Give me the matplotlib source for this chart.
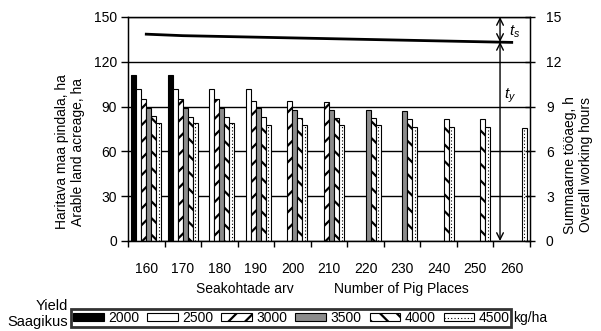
import numpy as np
import matplotlib
matplotlib.use("Agg")
import matplotlib.pyplot as plt
from matplotlib.patches import Patch
from matplotlib.lines import Line2D

plt.rcParams["font.family"] = ["Liberation Sans", "DejaVu Sans"]
plt.rcParams["font.size"] = 10
plt.rcParams["mathtext.fontset"] = "custom"
plt.rcParams["mathtext.it"] = "Liberation Sans:italic"
plt.rcParams["mathtext.rm"] = "Liberation Sans"
plt.rcParams["hatch.linewidth"] = 1.6

nan = np.nan

# seakohtade arv / number of pig places
places = [160, 170, 180, 190, 200, 210, 220, 230, 240, 250, 260]

# haritava maa pindala (ha) saagikuse kaupa, kg/ha
yields = ["2000", "2500", "3000", "3500", "4000", "4500"]
area_2000 = [111, 111, nan, nan, nan, nan, nan, nan, nan, nan, nan]
area_2500 = [102, 102, 101.5, 101.5, nan, nan, nan, nan, nan, nan, nan]
area_3000 = [95, 95, 95, 94, 94, 93, nan, nan, nan, nan, nan]
area_3500 = [89, 89, 89, 89, 88, 88, 88, 87, nan, nan, nan]
area_4000 = [84, 83, 83, 83, 82.5, 82.5, 82.5, 81.5, 81.5, 81.5, nan]
area_4500 = [79, 79, 79, 78, 78, 78, 78, 76.5, 76.5, 76.5, 76]

# summaarne tööaeg, h
hours = [13.85, 13.75, 13.7, 13.65, 13.6, 13.55, 13.5, 13.45, 13.4, 13.35, 13.3]

series = [area_2000, area_2500, area_3000, area_3500, area_4000, area_4500]
faces = ["black", "white", "white", "#8c8c8c", "white", "white"]
hatches = [None, None, "//", None, "\\\\", None]

fig = plt.figure(figsize=(6.01, 3.31), dpi=100)
ax = fig.add_axes([128 / 601, 1 - 241 / 331, 402 / 601, 224 / 331])

x = np.arange(len(places))
w = 0.137
for k, vals in enumerate(series):
    pos = x + (k - 2.5) * w
    ax.bar(pos, vals, w, color=faces[k], edgecolor="black",
           linewidth=0.8, hatch=hatches[k], zorder=2)
    if k == 5:
        # 4500: punktiirjoon tulba keskel
        ax.vlines(pos, 0, vals, colors="black", linestyles=(0, (1, 2)),
                  linewidth=0.8, zorder=3)

ax.set_xlim(-0.5, len(places) - 0.5)
ax.set_ylim(0, 150)
ax.set_yticks(range(0, 151, 30))
ax.yaxis.grid(True, color="black", linewidth=1)
ax.set_axisbelow(True)
ax.set_xticks(x)
ax.set_xticklabels([str(p) for p in places])
ax.set_xticks(np.arange(-0.5, len(places), 1), minor=True)
ax.tick_params(axis="x", which="major", length=0, pad=15)
ax.tick_params(axis="x", which="minor", length=4, width=1, direction="out")
ax.tick_params(axis="y", length=5, width=1, direction="out", pad=3)
for s in ax.spines.values():
    s.set_linewidth(1)

ax2 = ax.twinx()
ax2.set_ylim(0, 15)
ax2.set_yticks(range(0, 16, 3))
ax2.tick_params(axis="y", length=7, width=1, direction="inout", pad=8)
ax2.plot(x, hours, color="black", linewidth=2, zorder=3)

# t_s ja t_y nooled
xa = 9.68
ya = 13.33
ax2.annotate("", xy=(xa, 15), xytext=(xa, ya),
             arrowprops=dict(arrowstyle="<->", color="black", lw=1,
                             shrinkA=0, shrinkB=0, mutation_scale=12))
ax2.annotate("", xy=(xa, 0), xytext=(xa, ya),
             arrowprops=dict(arrowstyle="<->", color="black", lw=1,
                             shrinkA=0, shrinkB=0, mutation_scale=12))
ax2.text(xa + 0.25, 14.0, "$t_s$", fontsize=11, va="center", ha="left")
ax2.text(xa + 0.12, 9.7, "$t_y$", fontsize=11, va="center", ha="left")

fig.text(70 / 601, 1 - 152 / 331, "Haritava maa pindala, ha\nArable land acreage, ha",
         rotation=90, ha="center", va="center", multialignment="center",
         linespacing=1.15)
fig.text(578 / 601, 1 - 165 / 331, "Summaarne tööaeg, h\nOverall working hours",
         rotation=90, ha="center", va="center", multialignment="center",
         linespacing=1.15)

fig.text(245 / 601, 1 - 289 / 331, "Seakohtade arv", ha="center", va="center")
fig.text(401 / 601, 1 - 289 / 331, "Number of Pig Places", ha="center", va="center")

handles = []
for k in range(6):
    p = Patch(facecolor=faces[k], edgecolor="black", linewidth=0.8, hatch=hatches[k])
    if k == 5:
        handles.append((p, Line2D([], [], color="black", linewidth=0.8,
                                  linestyle=(0, (1, 2)))))
    else:
        handles.append(p)
leg = fig.legend(handles=handles, labels=yields, loc="upper left", ncol=6,
                 bbox_to_anchor=(71 / 601, 1 - 309 / 331), borderaxespad=0,
                 frameon=True, fancybox=False, edgecolor="black",
                 handlelength=2.2, handleheight=0.55, handletextpad=0.3,
                 columnspacing=0.6, borderpad=0.15, fontsize=10)
leg.get_frame().set_linewidth(2)

fig.text(68 / 601, 1 - 306 / 331, "Yield", ha="right", va="center", fontsize=10.5)
fig.text(68 / 601, 1 - 322 / 331, "Saagikus", ha="right", va="center", fontsize=10.5)

fig.canvas.draw()
bb = leg.get_window_extent()
fig.text((bb.x1 + 2) / 601, (bb.y0 + bb.y1) / 2 / 331, "kg/ha", ha="left", va="center")

fig.savefig("out.png", dpi=100)
